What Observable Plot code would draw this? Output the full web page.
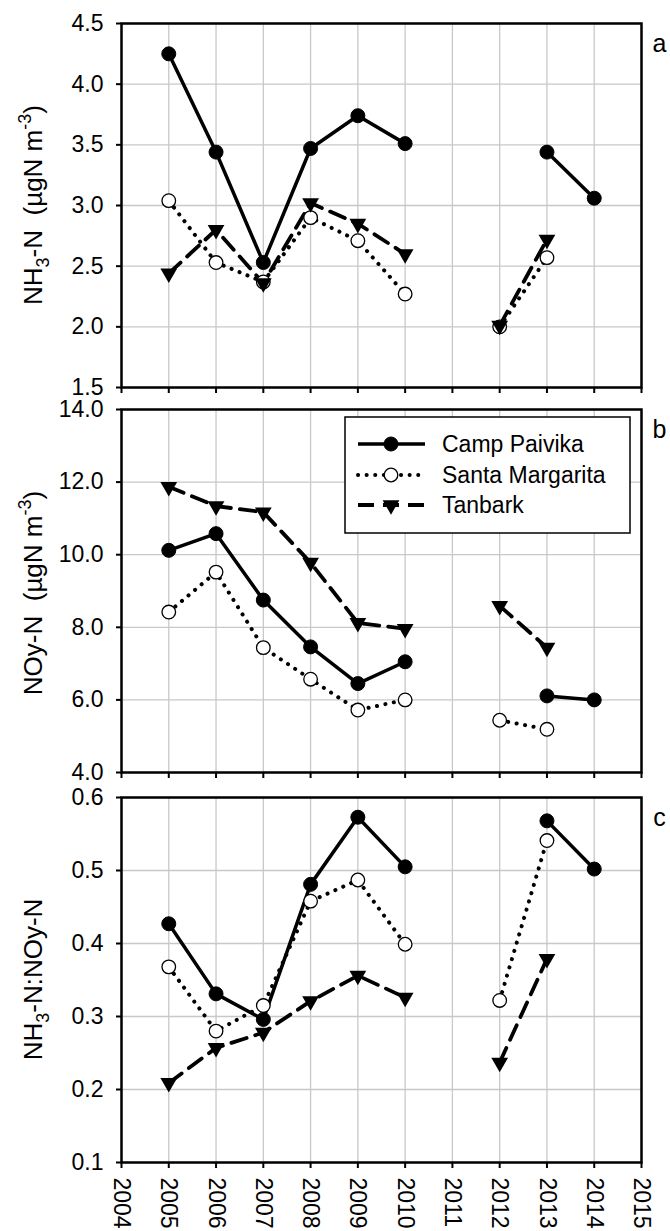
<!DOCTYPE html>
<html>
<head>
<meta charset="utf-8">
<script src="https://cdn.jsdelivr.net/npm/d3@7"></script>
<script src="https://cdn.jsdelivr.net/npm/@observablehq/plot@0.6"></script>
<style>
  html, body { margin: 0; padding: 0; background: white; }
  #chart { position: relative; width: 670px; height: 1231px; overflow: hidden; font-family: "Liberation Sans", Arial, sans-serif; }
  #chart svg { position: absolute; left: 0; }
</style>
</head>
<body>
<div id="chart"></div>
<script>
// ---- data ----
const axisYears = [2004, 2005, 2006, 2007, 2008, 2009, 2010, 2011, 2012, 2013, 2014, 2015];
const dataYears = [2005, 2006, 2007, 2008, 2009, 2010, 2011, 2012, 2013, 2014];
const siteNames = ["Camp Paivika", "Santa Margarita", "Tanbark"];

const nh3CampPaivika    = [4.25, 3.44, 2.53, 3.47, 3.74, 3.51, null, null, 3.44, 3.06];
const nh3SantaMargarita = [3.04, 2.53, 2.37, 2.90, 2.71, 2.27, null, 2.00, 2.57, null];
const nh3Tanbark        = [2.44, 2.80, 2.36, 3.02, 2.85, 2.60, null, 2.01, 2.72, null];

const noyCampPaivika    = [10.12, 10.58, 8.75, 7.46, 6.45, 7.05, null, null, 6.11, 6.00];
const noySantaMargarita = [8.42, 9.52, 7.44, 6.57, 5.72, 6.00, null, 5.44, 5.19, null];
const noyTanbark        = [11.87, 11.34, 11.17, 9.78, 8.12, 7.96, null, 8.59, 7.44, null];

const ratioCampPaivika    = [0.427, 0.331, 0.296, 0.481, 0.573, 0.505, null, null, 0.568, 0.502];
const ratioSantaMargarita = [0.368, 0.280, 0.315, 0.458, 0.487, 0.399, null, 0.322, 0.541, null];
const ratioTanbark        = [0.209, 0.257, 0.278, 0.321, 0.356, 0.326, null, 0.237, 0.379, null];

const yTicksA = [1.5, 2.0, 2.5, 3.0, 3.5, 4.0, 4.5];
const yTicksB = [4.0, 6.0, 8.0, 10.0, 12.0, 14.0];
const yTicksC = [0.1, 0.2, 0.3, 0.4, 0.5, 0.6];

// ---- styles ----
const FONT = "'Liberation Sans', Arial, sans-serif";
const TICK_FONT = 23;
const seriesStyle = {
  "Camp Paivika":    {line: {stroke: "black", strokeWidth: 3.5}, dot: {symbol: "circle", r: 7, fill: "black", stroke: "black", strokeWidth: 1}},
  "Santa Margarita": {line: {stroke: "black", strokeWidth: 4, strokeDasharray: "0.1 8.5", strokeLinecap: "round"}, dot: {symbol: "circle", r: 6.8, fill: "white", stroke: "black", strokeWidth: 1.3}},
  "Tanbark":         {line: {stroke: "black", strokeWidth: 3.8, strokeDasharray: "16 9"}, dot: {symbol: "triangle2", r: 8, fill: "black", stroke: "none", rotate: 180}}
};
const drawOrder = ["Santa Margarita", "Tanbark", "Camp Paivika"];

function rowsFor(seriesValues) {
  return siteNames.flatMap((name, s) => dataYears.map((year, i) => ({site: name, year, value: seriesValues[s][i]})));
}

const container = document.getElementById("chart");

function makePanel({values, yDomain, yTicks, top, height, mt, mb, panelLabel, showYears}) {
  const rows = rowsFor(values);
  const marks = [
    Plot.gridX(axisYears, {stroke: "#c8c8c8", strokeOpacity: 1, strokeWidth: 1.3}),
    Plot.gridY(yTicks, {stroke: "#c8c8c8", strokeOpacity: 1, strokeWidth: 1.3})
  ];
  for (const name of drawOrder) {
    const st = seriesStyle[name];
    const sub = rows.filter(d => d.site === name);
    marks.push(Plot.line(sub, {x: "year", y: "value", ...st.line}));
  }
  for (const name of drawOrder) {
    const st = seriesStyle[name];
    const sub = rows.filter(d => d.site === name && d.value != null);
    marks.push(Plot.dot(sub, {x: "year", y: "value", ...st.dot}));
  }
  marks.push(Plot.frame({stroke: "black", strokeWidth: 2.5}));
  marks.push(Plot.axisY(yTicks, {tickFormat: d3.format(".1f"), tickSize: 5, tickPadding: 13, strokeWidth: 2, label: null, fontSize: TICK_FONT}));
  if (showYears) {
    marks.push(Plot.axisX(axisYears, {tickFormat: d => String(d), tickRotate: 90, tickSize: 6, tickPadding: 9, strokeWidth: 2, label: null, fontSize: TICK_FONT}));
  } else {
    marks.push(Plot.axisX(axisYears, {tickFormat: () => "", tickSize: 6, strokeWidth: 2, label: null}));
  }
  marks.push(Plot.text([panelLabel], {frameAnchor: "top-right", dx: 18, dy: 20, text: d => d, fontSize: 25, fill: "black", textAnchor: "middle", lineAnchor: "middle"}));

  const svg = Plot.plot({
    width: 670,
    height,
    marginLeft: 121,
    marginRight: 29,
    marginTop: mt,
    marginBottom: mb,
    x: {type: "linear", domain: [2004, 2015]},
    y: {type: "linear", domain: yDomain},
    style: {fontFamily: FONT, fontSize: TICK_FONT + "px", color: "black", background: "transparent", overflow: "visible"},
    marks
  });
  svg.style.top = top + "px";
  container.appendChild(svg);
  return svg;
}

function addTitle(svg, cy, parts) {
  const t = d3.select(svg).append("text")
    .attr("transform", `translate(42, ${cy}) rotate(-90)`)
    .attr("text-anchor", "middle")
    .attr("font-family", FONT)
    .attr("font-size", 26)
    .attr("fill", "black");
  let shift = 0;
  for (const p of parts) {
    const ts = t.append("tspan").text(p.text);
    let target = 0;
    if (p.sub) { target = 7; ts.attr("font-size", 18); }
    if (p.sup) { target = -11; ts.attr("font-size", 18); }
    ts.attr("dy", target - shift);
    shift = target;
  }
}

// Panel a
const svgA = makePanel({
  values: [nh3CampPaivika, nh3SantaMargarita, nh3Tanbark],
  yDomain: [1.5, 4.5], yTicks: yTicksA,
  top: 0, height: 400, mt: 23, mb: 13, panelLabel: "a", showYears: false
});
addTitle(svgA, 205, [{text: "NH"}, {text: "3", sub: true}, {text: "-N  (µgN m"}, {text: "-3", sup: true}, {text: ")"}]);

// Panel b
const svgB = makePanel({
  values: [noyCampPaivika, noySantaMargarita, noyTanbark],
  yDomain: [4, 14], yTicks: yTicksB,
  top: 386, height: 400, mt: 23, mb: 14, panelLabel: "b", showYears: false
});
addTitle(svgB, 207, [{text: "NOy-N  (µgN m"}, {text: "-3", sup: true}, {text: ")"}]);

// Legend inside panel b
(function legend() {
  const g = d3.select(svgB).append("g");
  g.append("rect").attr("x", 345).attr("y", 31).attr("width", 285).attr("height", 116)
    .attr("fill", "white").attr("stroke", "black").attr("stroke-width", 1.5);
  const rowsY = [58, 89, 119];
  siteNames.forEach((name, i) => {
    const st = seriesStyle[name];
    const y = rowsY[i];
    const ln = g.append("line").attr("x1", 358).attr("x2", 425).attr("y1", y).attr("y2", y)
      .attr("stroke", "black").attr("stroke-width", st.line.strokeWidth);
    if (st.line.strokeDasharray) ln.attr("stroke-dasharray", st.line.strokeDasharray);
    if (st.line.strokeLinecap) ln.attr("stroke-linecap", st.line.strokeLinecap);
    const sym = st.dot.symbol === "circle" ? d3.symbolCircle : d3.symbolTriangle2;
    const size = Math.PI * st.dot.r * st.dot.r;
    g.append("path").attr("d", d3.symbol(sym, size)())
      .attr("transform", `translate(391, ${y}) rotate(${st.dot.rotate || 0})`)
      .attr("fill", st.dot.fill).attr("stroke", st.dot.stroke).attr("stroke-width", st.dot.strokeWidth || 0);
    g.append("text").attr("x", 442).attr("y", y).attr("dy", "0.35em")
      .attr("text-anchor", "start")
      .attr("font-family", FONT).attr("font-size", 23).attr("fill", "black").text(name);
  });
})();

// Panel c
const svgC = makePanel({
  values: [ratioCampPaivika, ratioSantaMargarita, ratioTanbark],
  yDomain: [0.1, 0.6], yTicks: yTicksC,
  top: 772, height: 459, mt: 25, mb: 69, panelLabel: "c", showYears: true
});
addTitle(svgC, 207.5, [{text: "NH"}, {text: "3", sub: true}, {text: "-N:NOy-N"}]);
</script>
</body>
</html>
